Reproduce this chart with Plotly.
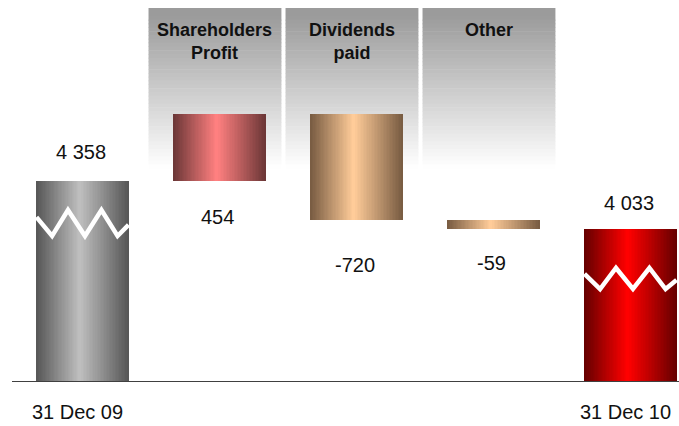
import plotly.graph_objects as go

# ---------------- data ----------------
categories = ["31 Dec 09", "Shareholders Profit", "Dividends paid", "Other", "31 Dec 10"]
opening_equity = 4358
movements = [454, -720, -59]
closing_equity = 4033
header_labels = ["Shareholders<br>Profit", "Dividends<br>paid", "Other"]
axis_labels = ["31 Dec 09", "31 Dec 10"]

# the value axis is broken: every column grows from this floor
AXIS_FLOOR = 3000

# ---------------- waterfall geometry ----------------
bases, heights = [AXIS_FLOOR], [opening_equity - AXIS_FLOOR]
running = opening_equity
for m in movements:
    bases.append(running)
    heights.append(m)
    running += m
bases.append(AXIS_FLOOR)
heights.append(closing_equity - AXIS_FLOOR)
xs = list(range(len(categories)))


def fmt(v):
    return f"{v:,}".replace(",", " ")


label_text = [fmt(opening_equity)] + [fmt(m) for m in movements] + [fmt(closing_equity)]
label_anchor = [opening_equity] + [min(b, b + h) for b, h in zip(bases[1:4], heights[1:4])] + [closing_equity]
label_shift = [29, -36, -45.5, -34.5, 25.5]

# ---------------- styling ----------------
W, H = 679, 426
M_L, M_R, M_T, M_B = 12, 0, 0, 45
PX_PER_UNIT = 0.1475
plot_h = H - M_T - M_B
y_range = [AXIS_FLOOR, AXIS_FLOOR + plot_h / PX_PER_UNIT]
SLOT = 137.0          # pixels between category centres
FIRST_CENTRE = 82.5   # pixel x of the first category
x_range = [(M_L - FIRST_CENTRE) / SLOT, (W - M_R - FIRST_CENTRE) / SLOT]

# rim / centre colours of each column's cylinder shading
edge_cols = ["#585858", "#6e3838", "#7a5d43", "#7a5d43", "#680000"]
centre_cols = ["#bebebe", "#ff8080", "#ffcc99", "#ffcc99", "#ff0000"]


def hex2rgb(h):
    h = h.lstrip("#")
    return tuple(int(h[i:i + 2], 16) for i in (0, 2, 4))


def mix(a, b, t):
    ra, rb = hex2rgb(a), hex2rgb(b)
    return "rgb(%d,%d,%d)" % tuple(round(ra[i] + (rb[i] - ra[i]) * t) for i in range(3))


fig = go.Figure()

# cylinder shading: nested overlaid bars, dark at the rim, light near the middle
BAR_W = 0.672
PEAK = 0.47
N_LAYERS = 32
for k in range(N_LAYERS):
    t = k / (N_LAYERS - 1)
    left = -BAR_W / 2 + k * PEAK * BAR_W / N_LAYERS
    right = BAR_W / 2 - k * (1 - PEAK) * BAR_W / N_LAYERS
    fig.add_trace(go.Bar(
        x=xs, y=heights, base=bases,
        width=right - left, offset=left,
        marker=dict(color=[mix(e, c, t) for e, c in zip(edge_cols, centre_cols)],
                    line=dict(width=0)),
        hoverinfo="skip", showlegend=False,
    ))


# axis-break zigzags across the two total columns
def px_to_val(py):
    return AXIS_FLOOR + (M_T + plot_h - py) / PX_PER_UNIT


zig_dx = [-0.336, -0.222, -0.106, 0.018, 0.138, 0.256, 0.336]
zig_f = [0.45, -1, 1, -1, 1, -1, -0.15]
for idx, centre_px, half_px in [(0, 223, 13), (4, 278.5, 10.5)]:
    fig.add_trace(go.Scatter(
        x=[idx + d for d in zig_dx],
        y=[px_to_val(centre_px - f * half_px) for f in zig_f],
        mode="lines", line=dict(color="white", width=4.5),
        hoverinfo="skip", showlegend=False,
    ))

# grey header panels fading to white
shapes = []
BOX_TOP, BOX_SOLID, BOX_END = 8, 16, 168
n_strips = 40
for i in (1, 2, 3):
    x0, x1 = i - 0.518, i + 0.452
    shapes.append(dict(type="rect", xref="x", yref="paper", x0=x0, x1=x1,
                       y0=1 - BOX_SOLID / plot_h, y1=1 - BOX_TOP / plot_h,
                       fillcolor="#9b9b9b", line=dict(width=0), layer="below"))
    step = (BOX_END - BOX_SOLID) / n_strips
    for s in range(n_strips):
        p0 = BOX_SOLID + s * step
        shapes.append(dict(type="rect", xref="x", yref="paper", x0=x0, x1=x1,
                           y0=1 - (p0 + step + 0.6) / plot_h, y1=1 - p0 / plot_h,
                           fillcolor=mix("#9b9b9b", "#ffffff", (s + 0.5) / n_strips),
                           line=dict(width=0), layer="below"))

annotations = []
for i, txt in zip((1, 2, 3), header_labels):
    annotations.append(dict(x=i - 0.033, y=1 - 18 / plot_h, xref="x", yref="paper",
                            text=f"<b>{txt}</b>", showarrow=False, yanchor="top",
                            font=dict(family="Liberation Sans, Arial", size=18, color="#111")))
for x, y, txt, sh in zip(xs, label_anchor, label_text, label_shift):
    annotations.append(dict(x=x, y=y, text=txt, showarrow=False, yanchor="middle",
                            yshift=sh, xshift=-2,
                            font=dict(family="Liberation Sans, Arial", size=20, color="#111")))

fig.update_layout(
    width=W, height=H, autosize=False,
    margin=dict(l=M_L, r=M_R, t=M_T, b=M_B),
    barmode="overlay", bargap=0,
    plot_bgcolor="white", paper_bgcolor="white",
    shapes=shapes, annotations=annotations,
    xaxis=dict(range=x_range, tickvals=[0, 4], ticktext=axis_labels,
               showgrid=False, zeroline=False, showline=True,
               linecolor="#404040", linewidth=1, ticks="",
               tickfont=dict(family="Liberation Sans, Arial", size=20, color="#111"),
               ticklabelshift=-5, ticklabelstandoff=13, fixedrange=True),
    yaxis=dict(range=y_range, visible=False, showgrid=False, fixedrange=True),
)

fig.write_html("out.html")
